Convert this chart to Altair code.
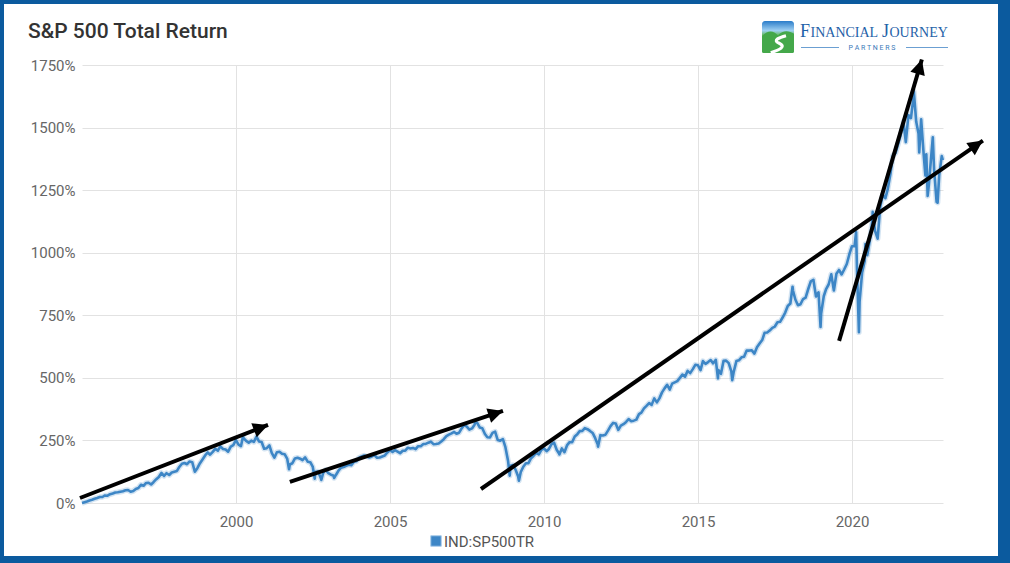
import altair as alt
import pandas as pd

# ---------------- text ----------------
title_text = "S&P 500 Total Return"
series_name = "IND:SP500TR"
logo_big = ["F", "J"]
logo_small = ["INANCIAL", "OURNEY"]
logo_sub = "P A R T N E R S"

# ---------------- data: cumulative total return (%) at month ends ----------------
tr_1995 = [3, 6, 10, 13, 17, 20, 24, 24, 30, 29, 35, 38]
tr_1996 = [42, 43, 45, 47, 51, 52, 45, 48, 56, 60, 73, 69]
tr_1997 = [80, 81, 74, 84, 95, 104, 120, 108, 119, 112, 122, 125]
tr_1998 = [128, 144, 157, 160, 155, 166, 163, 125, 139, 159, 174, 190]
tr_1999 = [202, 193, 204, 216, 209, 226, 216, 214, 205, 225, 231, 251]
tr_2000 = [233, 227, 259, 248, 241, 249, 244, 265, 246, 244, 217, 219]
tr_2001 = [230, 200, 181, 203, 205, 197, 195, 176, 154, 159, 178, 181]
tr_2002 = [177, 171, 182, 165, 163, 144, 125, 126, 102, 120, 132, 119]
tr_2003 = [113, 110, 112, 129, 141, 144, 149, 153, 151, 165, 167, 181]
tr_2004 = [186, 190, 186, 182, 186, 191, 181, 182, 186, 190, 202, 212]
tr_2005 = [204, 211, 205, 199, 209, 209, 221, 218, 220, 215, 227, 227]
tr_2006 = [236, 236, 241, 245, 235, 236, 238, 246, 255, 267, 273, 278]
tr_2007 = [284, 277, 281, 298, 312, 305, 293, 298, 313, 320, 302, 299]
tr_2008 = [276, 263, 262, 280, 285, 252, 249, 255, 223, 169, 149, 152]
tr_2009 = [131, 106, 124, 145, 159, 159, 179, 189, 200, 194, 212, 218]
tr_2010 = [207, 216, 235, 241, 213, 197, 218, 203, 230, 243, 243, 266]
tr_2011 = [275, 287, 288, 299, 295, 288, 280, 259, 234, 271, 270, 273]
tr_2012 = [290, 307, 320, 318, 292, 309, 315, 324, 335, 327, 329, 333]
tr_2013 = [355, 361, 378, 388, 399, 392, 418, 402, 418, 442, 458, 472]
tr_2014 = [453, 477, 482, 487, 500, 513, 505, 528, 519, 535, 552, 550]
tr_2015 = [531, 567, 556, 563, 571, 558, 572, 531, 516, 568, 569, 559]
tr_2016 = [526, 525, 567, 570, 582, 584, 609, 609, 610, 597, 622, 637]
tr_2017 = [651, 680, 681, 689, 700, 705, 722, 724, 741, 761, 787, 797]
tr_2018 = [849, 813, 790, 794, 815, 821, 855, 886, 892, 825, 842, 757]
tr_2019 = [826, 855, 874, 914, 849, 916, 931, 913, 933, 955, 993, 1026]
tr_2020 = [1026, 932, 805, 921, 968, 990, 1051, 1134, 1087, 1056, 1182, 1231]
tr_2021 = [1218, 1254, 1313, 1388, 1398, 1433, 1470, 1517, 1442, 1550, 1538, 1625]
tr_2022 = [1524, 1475, 1533, 1392, 1393, 1270, 1397, 1335, 1203, 1309, 1386]

yearly = [tr_1995, tr_1996, tr_1997, tr_1998, tr_1999, tr_2000, tr_2001, tr_2002,
          tr_2003, tr_2004, tr_2005, tr_2006, tr_2007, tr_2008, tr_2009, tr_2010,
          tr_2011, tr_2012, tr_2013, tr_2014, tr_2015, tr_2016, tr_2017, tr_2018,
          tr_2019, tr_2020, tr_2021, tr_2022]
first_year = 1995

# intra-month highs / lows
extra_dates = ["1995-01-01", "2000-03-24", "2001-09-21", "2002-07-23", "2002-10-09",
               "2003-03-11", "2007-10-09", "2008-11-20", "2009-03-09", "2010-07-02",
               "2011-10-03", "2015-08-25", "2016-02-11", "2018-01-26", "2018-12-24",
               "2020-02-19", "2020-03-23", "2020-06-08", "2020-09-02", "2021-09-02",
               "2022-01-03", "2022-03-08", "2022-05-20", "2022-06-16", "2022-08-16",
               "2022-10-12", "2022-12-01", "2022-12-13"]
extra_values = [0, 266, 135, 97, 92,
                100, 324, 109, 89, 194,
                225, 498, 491, 864, 703,
                1083, 682, 1035, 1163, 1523,
                1645, 1401, 1309, 1227, 1461,
                1200, 1385, 1370]

# trend arrows drawn on the picture (start -> tip)
arrow_ids = ["a1", "a2", "a3", "a4"]
arrow_start_dates = ["1994-12-08", "2001-10-01", "2007-12-15", "2019-08-01"]
arrow_start_values = [20, 84, 56, 648]
arrow_tip_dates = ["2001-01-15", "2008-09-01", "2024-04-01", "2022-04-08"]
arrow_tip_values = [312, 368, 1448, 1772]
arrow_angles = [68.8, 71.6, 55.3, 16.5]

y_ticks = [0, 250, 500, 750, 1000, 1250, 1500, 1750]
x_tick_years = [2000, 2005, 2010, 2015, 2020]

# ---------------- build tables ----------------
rows = []
for i, vals in enumerate(yearly):
    yr = first_year + i
    for m, v in enumerate(vals):
        d = (pd.Timestamp(yr, m + 1, 1) + pd.offsets.MonthEnd(0)).strftime("%Y-%m-%d")
        rows.append((d, v))
rows += list(zip(extra_dates, extra_values))
df = pd.DataFrame(rows, columns=["date", "value"]).sort_values("date")
df["series"] = series_name

arrow_rows = []
for a, sd, sv, td, tv in zip(arrow_ids, arrow_start_dates, arrow_start_values,
                             arrow_tip_dates, arrow_tip_values):
    arrow_rows.append((a, sd, sv, 0))
    arrow_rows.append((a, td, tv, 1))
arrows = pd.DataFrame(arrow_rows, columns=["arrow", "date", "value", "order"])
heads = pd.DataFrame({"arrow": arrow_ids, "date": arrow_tip_dates,
                      "value": arrow_tip_values, "angle": arrow_angles})

# ---------------- style ----------------
BLUE = "#3d86c6"
FRAME = "#0b5a9e"
FONT = "Roboto"

x_scale = alt.Scale(type="utc", domain=["1995-01-01", "2022-12-15"])
y_scale = alt.Scale(domain=[0, 1750], nice=False)

x_axis = alt.Axis(values=[alt.DateTime(year=y, month=1, date=1, utc=True) for y in x_tick_years],
                  format="%Y", title=None, domain=False, ticks=False, labelPadding=11,
                  labelFontSize=15, labelColor="#666666", labelFont=FONT,
                  gridColor="#e2e2e2", gridWidth=1)
y_axis = alt.Axis(values=y_ticks, labelExpr="datum.value + '%'", title=None, domain=False,
                  ticks=False, labelPadding=7, labelFontSize=15, labelColor="#666666",
                  labelFont=FONT, gridColor="#e2e2e2", gridWidth=1)

halo = alt.Chart(df).mark_line(color=BLUE, strokeWidth=5.5, opacity=0.22, strokeJoin="round").encode(
    x=alt.X("date:T", scale=x_scale, axis=x_axis),
    y=alt.Y("value:Q", scale=y_scale, axis=y_axis),
)
line = alt.Chart(df).mark_line(color=BLUE, strokeWidth=2.6, strokeJoin="round").encode(
    x="date:T", y="value:Q")

arrow_lines = alt.Chart(arrows).mark_line(color="black", strokeWidth=4, strokeCap="butt").encode(
    x="date:T", y="value:Q", detail="arrow:N", order="order:Q")
arrow_heads = alt.Chart(heads).mark_point(
    shape="M0,0L0.5,1L-0.5,1Z", filled=True, color="black", opacity=1, size=900
).encode(x="date:T", y="value:Q", angle=alt.Angle("angle:Q", scale=None))

title = alt.Chart(pd.DataFrame({"t": [title_text]})).mark_text(
    align="left", baseline="alphabetic", font=FONT, fontSize=21, fontWeight=500, color="#333333"
).encode(x=alt.value(-54), y=alt.value(-27.5), text="t:N")

legend_sq = alt.Chart(pd.DataFrame({"s": [series_name]})).mark_square(
    size=110, color=BLUE, opacity=1, stroke="#a9cbe9", strokeWidth=1
).encode(x=alt.value(354), y=alt.value(476))
legend_tx = alt.Chart(pd.DataFrame({"s": [series_name]})).mark_text(
    align="left", baseline="middle", font=FONT, fontSize=15, color="#555555"
).encode(x=alt.value(362), y=alt.value(476.5), text="s:N")

# ---------------- logo ----------------
icon_bg = alt.Chart(pd.DataFrame({"k": [0]})).mark_rect(
    cornerRadius=3,
    fill=alt.Gradient(gradient="linear", x1=0, x2=0, y1=0, y2=1,
                      stops=[alt.GradientStop(offset=0, color="#2a7cc9"),
                             alt.GradientStop(offset=0.3, color="#9fd0f2"),
                             alt.GradientStop(offset=0.45, color="#5fb85a"),
                             alt.GradientStop(offset=1, color="#2f9a45")]),
).encode(x=alt.value(680), x2=alt.value(712), y=alt.value(-44), y2=alt.value(-12))
icon_hill = alt.Chart(pd.DataFrame({"k": [0]})).mark_point(
    shape="M-1,0.9L-1,-0.05C-0.6,-0.45 -0.3,-0.4 0,-0.1C0.3,-0.45 0.7,-0.4 1,-0.2L1,0.9Q1,1 0.9,1L-0.9,1Q-1,1 -1,0.9Z",
    filled=True, color="#44a84a", opacity=1, size=1024
).encode(x=alt.value(696), y=alt.value(-28))
icon_road = alt.Chart(pd.DataFrame({"k": [0]})).mark_point(
    shape="M-0.45,0.98C0.1,0.8 0.55,0.6 0.05,0.38C-0.35,0.2 0.1,0.02 0.5,-0.08",
    filled=False, color="white", strokeWidth=3.2, opacity=1, size=1024
).encode(x=alt.value(696), y=alt.value(-28))

logo_font = "Liberation Serif"
logo_col = "#1f62a8"
logo_base = -28
logo_F = alt.Chart(pd.DataFrame({"t": [logo_big[0]]})).mark_text(
    align="left", baseline="alphabetic", font=logo_font, fontSize=18, color=logo_col
).encode(x=alt.value(718), y=alt.value(logo_base), text="t:N")
logo_inancial = alt.Chart(pd.DataFrame({"t": [logo_small[0]]})).mark_text(
    align="left", baseline="alphabetic", font=logo_font, fontSize=14, color=logo_col
).encode(x=alt.value(728.5), y=alt.value(logo_base), text="t:N")
logo_J = alt.Chart(pd.DataFrame({"t": [logo_big[1]]})).mark_text(
    align="left", baseline="alphabetic", font=logo_font, fontSize=18, color=logo_col
).encode(x=alt.value(800), y=alt.value(logo_base), text="t:N")
logo_ourney = alt.Chart(pd.DataFrame({"t": [logo_small[1]]})).mark_text(
    align="left", baseline="alphabetic", font=logo_font, fontSize=14, color=logo_col
).encode(x=alt.value(807.5), y=alt.value(logo_base), text="t:N")
logo_partners = alt.Chart(pd.DataFrame({"t": [logo_sub]})).mark_text(
    align="center", baseline="middle", font=FONT, fontSize=7, color="#3a78b8"
).encode(x=alt.value(790), y=alt.value(-17.5), text="t:N")
logo_rule1 = alt.Chart(pd.DataFrame({"k": [0]})).mark_rule(color="#6b9fd2", strokeWidth=1).encode(
    x=alt.value(719), x2=alt.value(757), y=alt.value(-17.5))
logo_rule2 = alt.Chart(pd.DataFrame({"k": [0]})).mark_rule(color="#6b9fd2", strokeWidth=1).encode(
    x=alt.value(824), x2=alt.value(866), y=alt.value(-17.5))

# ---------------- blue frame ----------------
def frame_rect(x1, x2, y1, y2):
    return alt.Chart(pd.DataFrame({"k": [0]})).mark_rect(color=FRAME, opacity=1).encode(
        x=alt.value(x1), x2=alt.value(x2), y=alt.value(y1), y2=alt.value(y2))

frame = [frame_rect(-82, -78, -65, 498), frame_rect(-82, 928, -65, -61),
         frame_rect(916, 928, -65, 498), frame_rect(-82, 928, 491, 498)]

chart = alt.layer(
    halo, line, arrow_lines, arrow_heads, title, legend_sq, legend_tx,
    icon_bg, icon_hill, icon_road, logo_F, logo_inancial, logo_J, logo_ourney,
    logo_rule1, logo_rule2, logo_partners, *frame
).properties(
    width=861, height=438,
    autosize=alt.AutoSizeParams(type="none"),
    padding={"left": 82, "top": 65, "right": 67, "bottom": 60},
    background="white",
).configure_view(stroke=None)

chart.save("out.html", embed_options={"renderer": "svg", "actions": False})
